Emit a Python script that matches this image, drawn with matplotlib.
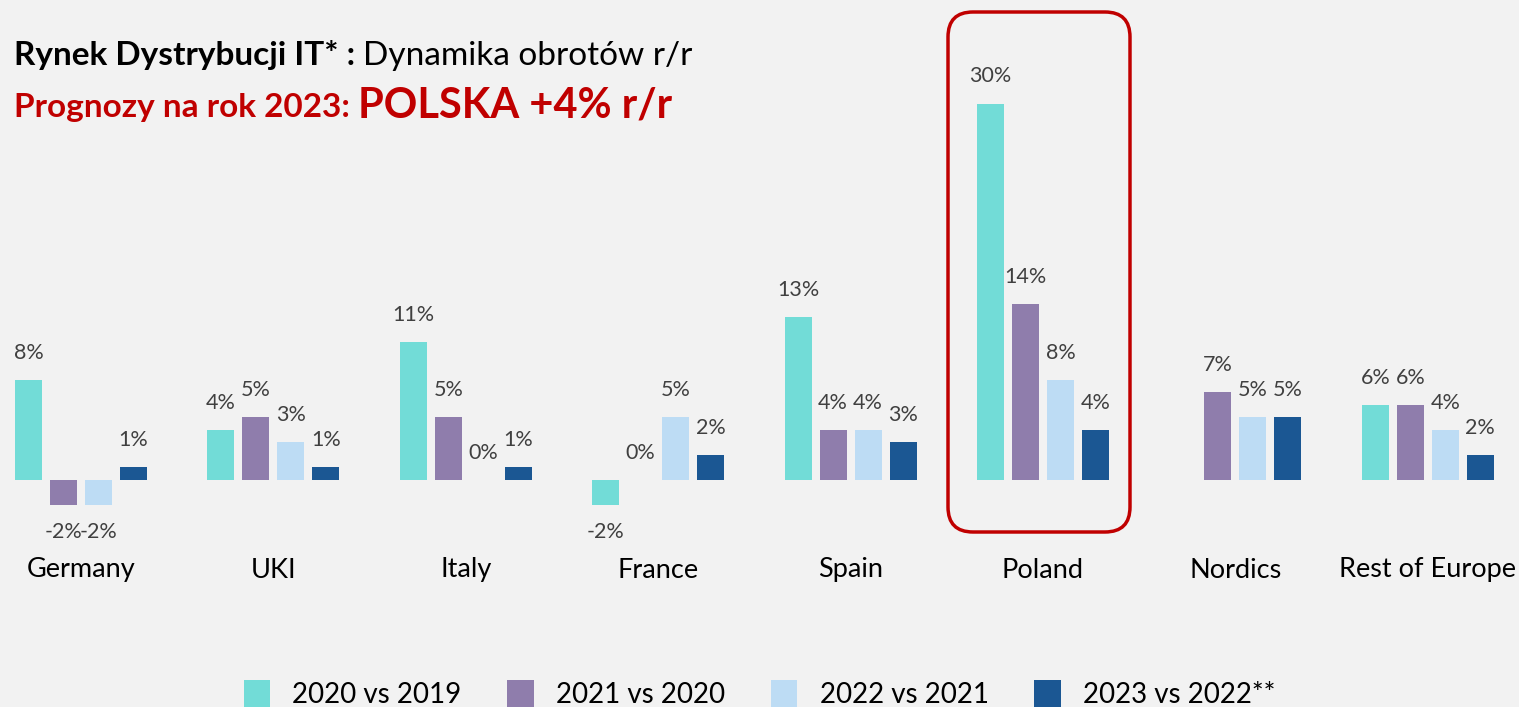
import numpy as np
import matplotlib
matplotlib.use("Agg")
import matplotlib.pyplot as plt
from matplotlib.patches import FancyBboxPatch, Patch

plt.rcParams['font.family'] = ['Lato', 'DejaVu Sans']

categories = ['Germany', 'UKI', 'Italy', 'France', 'Spain', 'Poland', 'Nordics', 'Rest of Europe']
series_names = ['2020 vs 2019', '2021 vs 2020', '2022 vs 2021', '2023 vs 2022**']
v2020 = [8, 4, 11, -2, 13, 30, None, 6]
v2021 = [-2, 5, 5, 0, 4, 14, 7, 6]
v2022 = [-2, 3, 0, 5, 4, 8, 5, 4]
v2023 = [1, 1, 1, 2, 3, 4, 5, 2]
colors = ['#72DCD7', '#8F7DAC', '#BDDCF4', '#1B5793']
highlight = 'Poland'

bg = '#F2F2F2'
W, H = 1519, 707
fig = plt.figure(figsize=(W / 100, H / 100), dpi=100, facecolor=bg)
ax = fig.add_axes([0, 0, 1, 1], facecolor=bg)

# pixel geometry of the original
x0_px, gstep_px = 81, 192.4
zero_px, px_per_pct = 480, 12.55
ax.set_xlim(-x0_px / gstep_px, (W - x0_px) / gstep_px)
ax.set_ylim(-(H - zero_px) / px_per_pct, zero_px / px_per_pct)
ax.axis('off')

width = 27 / gstep_px
step = 35 / gstep_px
x = np.arange(len(categories))

for s, vals in enumerate([v2020, v2021, v2022, v2023]):
    pos = x + (s - 1.5) * step
    for xi, v in zip(pos, vals):
        if v is None:
            continue
        ax.bar(xi, v, width=width, color=colors[s], linewidth=0)
        off = 27 if v >= 0 else -27
        ax.annotate(f'{v}%', (xi, v), xytext=(0, off * 0.72), textcoords='offset points',
                    ha='center', va='center', fontsize=15.5, color='#404040')

for xi, c in zip(x, categories):
    ax.text(xi, -90 / px_per_pct, c, ha='center', va='center', fontsize=19.5, color='black')

# highlight box around Poland
pi = categories.index(highlight)
left = pi - (1043 - 948) / gstep_px
right = pi + (1130 - 1043) / gstep_px
top = (zero_px - 12) / px_per_pct
bottom = (zero_px - 532) / px_per_pct
box = FancyBboxPatch((left, bottom), right - left, top - bottom,
                     boxstyle='round,pad=0,rounding_size=%f' % (25 / gstep_px),
                     mutation_aspect=gstep_px / px_per_pct,
                     fill=False, edgecolor='#C00000', linewidth=2.5, zorder=5)
ax.add_patch(box)

# titles
fig.canvas.draw()
r = fig.canvas.get_renderer()

def chain(parts, x_px, y_px):
    xp = x_px
    for txt, size, weight, col in parts:
        t = fig.text(xp / W, 1 - y_px / H, txt, fontsize=size, fontweight=weight,
                     color=col, ha='left', va='baseline')
        xp = t.get_window_extent(renderer=r).x1

chain([('Rynek Dystrybucji IT* : ', 24, 'bold', 'black'),
       ('Dynamika obrotów r/r', 24, 'normal', 'black')], 14, 65)
chain([('Prognozy na rok 2023: ', 24, 'bold', '#C00000'),
       ('POLSKA +4% r/r', 30, 'bold', '#C00000')], 14, 117)

handles = [Patch(facecolor=c, edgecolor='none') for c in colors]
fig.legend(handles, series_names, loc='center', bbox_to_anchor=(0.5, 1 - 694 / H),
           ncol=4, frameon=False, fontsize=20, handlelength=0.95, handleheight=1.2,
           columnspacing=1.65, handletextpad=0.8)

fig.savefig('out.png', dpi=100, facecolor=bg)
